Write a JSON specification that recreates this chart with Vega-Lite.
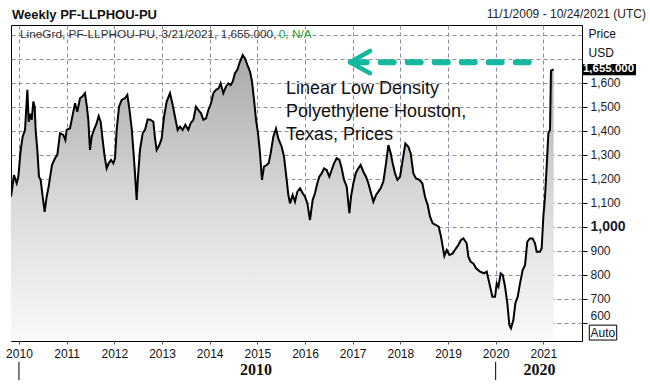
{
  "$schema": "https://vega.github.io/schema/vega-lite/v6.json",
  "width": 571,
  "height": 316,
  "autosize": "none",
  "padding": {"left": 11, "top": 25, "right": 68, "bottom": 44},
  "background": "white",
  "config": {"view": {"stroke": "#000", "strokeWidth": 1}, "font": "Liberation Sans"},
  "datasets": {
    "series": [
      {"x": 2009.833, "y": 1125}, {"x": 2009.896, "y": 1215}, {"x": 2009.952, "y": 1181}, {"x": 2009.987, "y": 1208},
      {"x": 2010.036, "y": 1320}, {"x": 2010.078, "y": 1375}, {"x": 2010.127, "y": 1403}, {"x": 2010.176, "y": 1570},
      {"x": 2010.204, "y": 1437}, {"x": 2010.232, "y": 1470}, {"x": 2010.267, "y": 1445}, {"x": 2010.301, "y": 1521},
      {"x": 2010.330, "y": 1500}, {"x": 2010.350, "y": 1403}, {"x": 2010.385, "y": 1320}, {"x": 2010.420, "y": 1208},
      {"x": 2010.455, "y": 1195}, {"x": 2010.497, "y": 1125}, {"x": 2010.539, "y": 1062}, {"x": 2010.581, "y": 1125},
      {"x": 2010.623, "y": 1167}, {"x": 2010.665, "y": 1222}, {"x": 2010.693, "y": 1257}, {"x": 2010.756, "y": 1285},
      {"x": 2010.805, "y": 1299}, {"x": 2010.861, "y": 1389}, {"x": 2010.931, "y": 1382}, {"x": 2010.973, "y": 1361},
      {"x": 2011.001, "y": 1403}, {"x": 2011.071, "y": 1410}, {"x": 2011.106, "y": 1445}, {"x": 2011.176, "y": 1514},
      {"x": 2011.224, "y": 1479}, {"x": 2011.280, "y": 1535}, {"x": 2011.329, "y": 1542}, {"x": 2011.385, "y": 1556},
      {"x": 2011.420, "y": 1507}, {"x": 2011.455, "y": 1445}, {"x": 2011.490, "y": 1320}, {"x": 2011.525, "y": 1375},
      {"x": 2011.574, "y": 1403}, {"x": 2011.630, "y": 1431}, {"x": 2011.672, "y": 1461}, {"x": 2011.714, "y": 1437},
      {"x": 2011.756, "y": 1361}, {"x": 2011.798, "y": 1292}, {"x": 2011.840, "y": 1243}, {"x": 2011.882, "y": 1264},
      {"x": 2011.931, "y": 1278}, {"x": 2011.980, "y": 1264}, {"x": 2012.015, "y": 1285}, {"x": 2012.050, "y": 1403},
      {"x": 2012.099, "y": 1500}, {"x": 2012.155, "y": 1528}, {"x": 2012.224, "y": 1535}, {"x": 2012.273, "y": 1549},
      {"x": 2012.315, "y": 1493}, {"x": 2012.364, "y": 1410}, {"x": 2012.399, "y": 1320}, {"x": 2012.434, "y": 1222},
      {"x": 2012.469, "y": 1111}, {"x": 2012.497, "y": 1208}, {"x": 2012.539, "y": 1320}, {"x": 2012.595, "y": 1389},
      {"x": 2012.644, "y": 1403}, {"x": 2012.700, "y": 1447}, {"x": 2012.763, "y": 1445}, {"x": 2012.819, "y": 1437},
      {"x": 2012.854, "y": 1368}, {"x": 2012.889, "y": 1320}, {"x": 2012.945, "y": 1340}, {"x": 2012.994, "y": 1368},
      {"x": 2013.043, "y": 1458}, {"x": 2013.099, "y": 1521}, {"x": 2013.168, "y": 1556}, {"x": 2013.217, "y": 1514},
      {"x": 2013.273, "y": 1458}, {"x": 2013.329, "y": 1403}, {"x": 2013.378, "y": 1417}, {"x": 2013.434, "y": 1403},
      {"x": 2013.490, "y": 1424}, {"x": 2013.553, "y": 1403}, {"x": 2013.602, "y": 1431}, {"x": 2013.658, "y": 1445},
      {"x": 2013.714, "y": 1500}, {"x": 2013.763, "y": 1486}, {"x": 2013.819, "y": 1472}, {"x": 2013.868, "y": 1445},
      {"x": 2013.924, "y": 1451}, {"x": 2013.973, "y": 1486}, {"x": 2014.029, "y": 1514}, {"x": 2014.077, "y": 1556},
      {"x": 2014.133, "y": 1570}, {"x": 2014.189, "y": 1576}, {"x": 2014.231, "y": 1597}, {"x": 2014.287, "y": 1556},
      {"x": 2014.343, "y": 1583}, {"x": 2014.392, "y": 1597}, {"x": 2014.441, "y": 1590}, {"x": 2014.483, "y": 1604},
      {"x": 2014.532, "y": 1639}, {"x": 2014.581, "y": 1653}, {"x": 2014.637, "y": 1688}, {"x": 2014.693, "y": 1715},
      {"x": 2014.742, "y": 1701}, {"x": 2014.791, "y": 1674}, {"x": 2014.847, "y": 1646}, {"x": 2014.889, "y": 1604},
      {"x": 2014.931, "y": 1528}, {"x": 2014.973, "y": 1445}, {"x": 2015.015, "y": 1389}, {"x": 2015.056, "y": 1306},
      {"x": 2015.098, "y": 1195}, {"x": 2015.140, "y": 1250}, {"x": 2015.196, "y": 1257}, {"x": 2015.238, "y": 1264},
      {"x": 2015.280, "y": 1306}, {"x": 2015.336, "y": 1375}, {"x": 2015.392, "y": 1408}, {"x": 2015.440, "y": 1368},
      {"x": 2015.511, "y": 1333}, {"x": 2015.560, "y": 1292}, {"x": 2015.616, "y": 1195}, {"x": 2015.651, "y": 1132},
      {"x": 2015.686, "y": 1097}, {"x": 2015.742, "y": 1132}, {"x": 2015.791, "y": 1104}, {"x": 2015.840, "y": 1146},
      {"x": 2015.896, "y": 1160}, {"x": 2015.952, "y": 1139}, {"x": 2016.001, "y": 1125}, {"x": 2016.050, "y": 1097},
      {"x": 2016.105, "y": 1028}, {"x": 2016.161, "y": 1111}, {"x": 2016.210, "y": 1139}, {"x": 2016.259, "y": 1181},
      {"x": 2016.301, "y": 1208}, {"x": 2016.350, "y": 1222}, {"x": 2016.399, "y": 1243}, {"x": 2016.455, "y": 1236},
      {"x": 2016.511, "y": 1208}, {"x": 2016.560, "y": 1236}, {"x": 2016.609, "y": 1264}, {"x": 2016.665, "y": 1285},
      {"x": 2016.721, "y": 1278}, {"x": 2016.770, "y": 1243}, {"x": 2016.819, "y": 1195}, {"x": 2016.875, "y": 1167},
      {"x": 2016.931, "y": 1056}, {"x": 2016.966, "y": 1125}, {"x": 2017.015, "y": 1181}, {"x": 2017.064, "y": 1222},
      {"x": 2017.120, "y": 1243}, {"x": 2017.168, "y": 1257}, {"x": 2017.224, "y": 1229}, {"x": 2017.280, "y": 1208},
      {"x": 2017.329, "y": 1181}, {"x": 2017.378, "y": 1146}, {"x": 2017.434, "y": 1104}, {"x": 2017.490, "y": 1132},
      {"x": 2017.539, "y": 1146}, {"x": 2017.588, "y": 1160}, {"x": 2017.644, "y": 1188}, {"x": 2017.700, "y": 1264},
      {"x": 2017.749, "y": 1340}, {"x": 2017.798, "y": 1306}, {"x": 2017.840, "y": 1264}, {"x": 2017.889, "y": 1222},
      {"x": 2017.938, "y": 1195}, {"x": 2017.994, "y": 1208}, {"x": 2018.050, "y": 1278}, {"x": 2018.106, "y": 1347},
      {"x": 2018.168, "y": 1333}, {"x": 2018.217, "y": 1306}, {"x": 2018.273, "y": 1222}, {"x": 2018.329, "y": 1201},
      {"x": 2018.399, "y": 1195}, {"x": 2018.462, "y": 1181}, {"x": 2018.518, "y": 1125}, {"x": 2018.574, "y": 1090},
      {"x": 2018.623, "y": 1042}, {"x": 2018.679, "y": 1014}, {"x": 2018.749, "y": 1007}, {"x": 2018.805, "y": 1000},
      {"x": 2018.854, "y": 958}, {"x": 2018.889, "y": 917}, {"x": 2018.924, "y": 878}, {"x": 2018.973, "y": 903},
      {"x": 2019.029, "y": 882}, {"x": 2019.099, "y": 889}, {"x": 2019.168, "y": 910}, {"x": 2019.217, "y": 924},
      {"x": 2019.273, "y": 945}, {"x": 2019.322, "y": 951}, {"x": 2019.392, "y": 931}, {"x": 2019.427, "y": 875},
      {"x": 2019.476, "y": 854}, {"x": 2019.532, "y": 847}, {"x": 2019.588, "y": 827}, {"x": 2019.672, "y": 813},
      {"x": 2019.756, "y": 806}, {"x": 2019.812, "y": 813}, {"x": 2019.868, "y": 764}, {"x": 2019.931, "y": 708},
      {"x": 2019.987, "y": 708}, {"x": 2020.022, "y": 764}, {"x": 2020.057, "y": 750}, {"x": 2020.106, "y": 806},
      {"x": 2020.148, "y": 799}, {"x": 2020.197, "y": 750}, {"x": 2020.245, "y": 681}, {"x": 2020.287, "y": 590},
      {"x": 2020.322, "y": 577}, {"x": 2020.371, "y": 611}, {"x": 2020.413, "y": 681}, {"x": 2020.462, "y": 708},
      {"x": 2020.511, "y": 764}, {"x": 2020.567, "y": 819}, {"x": 2020.616, "y": 840}, {"x": 2020.664, "y": 938},
      {"x": 2020.720, "y": 951}, {"x": 2020.776, "y": 951}, {"x": 2020.825, "y": 931}, {"x": 2020.860, "y": 896},
      {"x": 2020.930, "y": 896}, {"x": 2020.965, "y": 910}, {"x": 2021.000, "y": 1042}, {"x": 2021.035, "y": 1125},
      {"x": 2021.070, "y": 1250}, {"x": 2021.105, "y": 1389}, {"x": 2021.140, "y": 1403}, {"x": 2021.160, "y": 1650},
      {"x": 2021.216, "y": 1655}
    ]
  },
  "encoding": {
    "x": {
      "field": "x", "type": "quantitative",
      "scale": {"domain": [2009.833, 2021.811], "nice": false, "zero": false},
      "axis": {
        "values": [2010, 2011, 2012, 2013, 2014, 2015, 2016, 2017, 2018, 2019, 2020, 2021],
        "format": "d", "title": null, "grid": true, "gridColor": "#8c8c9e", "gridDash": [4, 3],
        "domain": false, "tickColor": "#555", "tickDash": [3, 2], "tickSize": 5, "labelPadding": 2,
        "labelFont": "Liberation Sans", "labelFontSize": 12, "labelColor": "#111",
        "labelFlush": false, "labelOverlap": false
      }
    },
    "y": {
      "field": "y", "type": "quantitative",
      "scale": {"domain": [524, 1840], "nice": false, "zero": false},
      "axis": {
        "orient": "right",
        "values": [600, 700, 800, 900, 1000, 1100, 1200, 1300, 1400, 1500, 1600, 1700, 1800],
        "labelExpr": "datum.value > 1650 ? '' : format(datum.value, ',')",
        "title": ["Price", "USD"], "titleAngle": 0, "titleAlign": "left", "titleBaseline": "top",
        "titleX": 6, "titleY": 3, "titleFont": "Liberation Sans", "titleFontSize": 12,
        "titleFontWeight": "normal", "titleColor": "#111", "titleLineHeight": 19,
        "grid": true, "gridColor": "#8c8c9e", "gridDash": [4, 3], "domain": false,
        "tickColor": "#000", "tickSize": 5,
        "tickOpacity": {"condition": {"test": "datum.value > 1650", "value": 0}, "value": 1},
        "labelPadding": 3, "labelFont": "Liberation Sans",
        "labelFontSize": {"condition": {"test": "datum.value === 1000", "value": 14}, "value": 12},
        "labelFontWeight": {"condition": {"test": "datum.value === 1000", "value": "bold"}, "value": "normal"},
        "labelBaseline": {"condition": {"test": "datum.value === 600", "value": "bottom"}, "value": "middle"},
        "labelColor": "#1b1b2b", "labelOverlap": false, "labelFlush": false
      }
    }
  },
  "layer": [
    {
      "data": {"name": "series"},
      "mark": {"type": "area", "clip": true, "color": {"gradient": "linear", "x1": 0, "y1": 0, "x2": 0, "y2": 1, "stops": [{"offset": 0, "color": "#a9a9a9"}, {"offset": 0.5, "color": "#d8d8d8"}, {"offset": 1, "color": "#fafafa"}]}},
      "encoding": {"y2": {"datum": 524}}
    },
    {
      "data": {"name": "series"},
      "mark": {"type": "line", "clip": true, "color": "#000", "strokeWidth": 2, "strokeJoin": "miter"}
    },
    {
      "data": {"values": [{"x": 2015.602, "y": 1553, "t": "Linear Low Density\nPolyethylene Houston,\nTexas, Prices"}]},
      "mark": {"type": "text", "align": "left", "baseline": "alphabetic", "font": "Liberation Sans", "fontSize": 18, "lineHeight": 23, "lineBreak": "\n", "color": "#111"},
      "encoding": {"text": {"field": "t"}}
    },
    {
      "data": {"values": [{"x": 2020.693, "x2": 2016.98, "y": 1685}]},
      "mark": {"type": "rule", "color": "#14b89e", "strokeWidth": 6, "strokeCap": "round", "strokeDash": [13, 14]},
      "encoding": {"x2": {"field": "x2"}}
    },
    {
      "data": {"values": [{"x": 2016.944, "y": 1685, "x2": 2017.364, "y2": 1732}, {"x": 2016.944, "y": 1685, "x2": 2017.364, "y2": 1639}]},
      "mark": {"type": "rule", "color": "#14b89e", "strokeWidth": 4.5, "strokeCap": "round"},
      "encoding": {"x2": {"field": "x2"}, "y2": {"field": "y2"}}
    },
    {
      "data": {"values": [{"x": 2009.854, "y": 1867, "t": "Weekly PF-LLPHOU-PU"}]},
      "mark": {"type": "text", "align": "left", "baseline": "alphabetic", "font": "Liberation Sans", "fontSize": 13, "fontWeight": "bold", "color": "#111"},
      "encoding": {"text": {"field": "t"}}
    },
    {
      "data": {"values": [{"x": 2010.022, "y": 1784, "t": "LineGrd, PF-LLPHOU-PU, 3/21/2021, 1,655.000,"}]},
      "mark": {"type": "text", "align": "left", "baseline": "alphabetic", "font": "Liberation Sans", "fontSize": 11.8, "color": "#333"},
      "encoding": {"text": {"field": "t"}}
    },
    {
      "data": {"values": [{"x": 2015.45, "y": 1784, "t": "0, N/A"}]},
      "mark": {"type": "text", "align": "left", "baseline": "alphabetic", "font": "Liberation Sans", "fontSize": 11.8, "color": "#1f9e3c"},
      "encoding": {"text": {"field": "t"}}
    },
    {
      "data": {"values": [{"x": 2023.154, "y": 1868, "t": "11/1/2009 - 10/24/2021 (UTC)"}]},
      "mark": {"type": "text", "align": "right", "baseline": "alphabetic", "font": "Liberation Sans", "fontSize": 12, "color": "#222"},
      "encoding": {"text": {"field": "t"}}
    },
    {
      "data": {"values": [{"x": 2021.811, "x2": 2022.944, "y": 1631, "y2": 1678}]},
      "mark": {"type": "rect", "color": "#000"},
      "encoding": {"x2": {"field": "x2"}, "y2": {"field": "y2"}}
    },
    {
      "data": {"values": [{"x": 2021.83, "y": 1655, "t": "1,655.000"}]},
      "mark": {"type": "text", "align": "left", "baseline": "middle", "font": "Liberation Sans", "fontSize": 11.5, "fontWeight": "bold", "color": "#fff"},
      "encoding": {"text": {"field": "t"}}
    },
    {
      "data": {"values": [{"x": 2021.964, "x2": 2022.539, "y": 528, "y2": 590}]},
      "mark": {"type": "rect", "fill": "#fff", "stroke": "#000", "strokeWidth": 1},
      "encoding": {"x2": {"field": "x2"}, "y2": {"field": "y2"}}
    },
    {
      "data": {"values": [{"x": 2022.25, "y": 559, "t": "Auto"}]},
      "mark": {"type": "text", "align": "center", "baseline": "middle", "font": "Liberation Sans", "fontSize": 12, "color": "#111"},
      "encoding": {"text": {"field": "t"}}
    },
    {
      "data": {"values": [{"x": 2014.97, "y": 403, "t": "2010"}, {"x": 2020.92, "y": 403, "t": "2020"}]},
      "mark": {"type": "text", "align": "center", "baseline": "middle", "font": "Liberation Sans Narrow", "fontSize": 16, "fontWeight": "bold", "color": "#111"},
      "encoding": {"text": {"field": "t"}}
    },
    {
      "data": {"values": [{"x": 2010.0, "y": 437, "y2": 361}, {"x": 2020.0, "y": 437, "y2": 361}]},
      "mark": {"type": "rule", "color": "#000", "strokeWidth": 1},
      "encoding": {"y2": {"field": "y2"}}
    }
  ]
}
